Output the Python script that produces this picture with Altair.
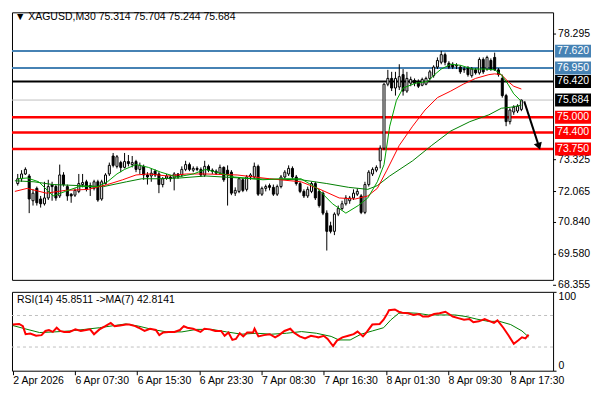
import altair as alt
import pandas as pd

# ---------------- data ----------------
opens = [72.38,72.57,72.76,72.68,71.70,72.19,71.77,71.58,71.81,72.34,72.26,71.89,72.72,72.26,71.96,71.92,72.07,72.34,72.45,72.30,
         72.19,72.45,71.77,72.38,72.76,73.47,73.06,73.21,73.02,73.25,73.13,73.25,72.94,73.06,72.72,72.68,72.87,72.76,72.34,72.60,
         72.64,72.60,72.76,72.72,72.94,73.13,72.91,72.98,72.94,72.72,73.06,72.91,72.87,72.79,73.02,72.91,72.83,72.00,72.07,72.53,
         72.15,72.64,72.64,73.06,71.96,72.19,72.30,72.23,71.96,72.26,72.64,72.76,72.98,72.64,72.38,72.07,71.89,72.07,72.38,72.07,
         72.00,71.21,70.71,70.49,71.17,71.39,71.58,71.70,71.81,71.96,71.89,71.24,72.34,72.76,72.91,73.28,73.78,76.31,76.54,76.16,
         76.20,76.69,76.04,76.35,76.46,76.42,76.27,76.31,76.54,76.65,76.99,77.18,77.48,77.14,77.10,77.03,76.99,76.91,76.95,76.65,
         76.88,76.76,77.29,76.91,77.25,77.37,76.88,76.54,75.86,74.83,75.21,75.25,75.314]
highs = [72.76,72.91,73.02,72.76,72.15,72.26,71.89,72.45,72.53,72.45,72.34,73.13,72.83,72.34,72.00,72.19,72.76,72.76,72.53,72.42,
         72.53,72.53,72.53,72.79,73.21,73.59,73.51,73.28,73.59,73.51,73.47,73.32,73.21,73.13,72.83,72.98,72.94,72.83,72.64,72.76,
         72.72,72.83,72.79,73.06,73.28,73.21,73.06,73.06,73.02,73.28,73.13,72.98,72.94,73.13,73.06,73.10,72.91,72.23,72.64,72.60,
         72.72,72.79,73.21,73.13,72.26,72.34,72.38,72.34,72.34,72.72,72.91,73.10,73.06,72.72,72.45,72.15,72.26,72.45,72.45,72.15,
         72.07,71.32,70.87,71.24,71.51,71.70,71.92,71.89,72.15,72.19,71.96,72.45,72.91,73.02,73.10,73.89,76.35,76.88,76.80,76.80,
         77.10,76.91,76.80,76.61,76.54,76.50,76.57,76.61,76.88,77.06,77.37,77.63,77.56,77.22,77.18,77.14,77.06,76.99,77.03,76.99,
         76.95,77.37,77.37,77.44,77.33,77.56,76.95,76.69,75.93,75.36,75.48,75.52,75.704]
lows = [72.30,72.45,72.72,71.21,71.51,71.51,71.43,71.51,71.73,71.70,71.70,71.81,72.26,71.70,71.62,71.85,72.00,72.23,72.07,71.89,
        72.11,71.66,71.70,72.34,72.68,73.02,72.98,72.83,72.98,73.06,73.02,72.83,72.76,72.53,72.34,72.45,72.64,72.00,72.23,72.53,
        72.45,72.11,72.57,72.64,72.87,72.87,72.83,72.87,72.64,72.64,72.83,72.76,72.72,72.72,72.45,71.51,71.92,71.89,72.00,72.04,
        72.07,72.53,72.57,71.89,71.89,72.07,72.11,71.89,71.89,72.19,72.57,72.68,72.57,72.30,72.00,71.81,71.81,72.00,71.73,71.43,
        71.13,69.73,70.41,70.34,71.09,71.32,71.51,71.58,71.73,71.89,71.17,71.17,72.26,72.68,72.83,72.98,73.70,76.23,76.04,75.86,
        76.08,75.86,75.97,76.23,76.23,76.16,76.23,76.27,76.46,76.57,76.91,77.10,77.06,76.91,76.91,76.91,76.72,76.76,76.61,76.57,
        76.69,76.69,76.72,76.84,76.84,76.84,76.61,75.78,74.65,74.72,75.10,75.17,75.244]
closes = [72.57,72.76,72.94,71.77,72.00,71.62,71.58,71.81,72.26,72.26,71.81,72.72,72.34,71.89,71.89,72.11,72.38,72.42,72.15,72.23,
          72.45,71.73,72.45,72.72,73.10,73.10,73.44,73.02,73.25,73.17,73.21,72.94,73.10,72.72,72.64,72.79,72.72,72.34,72.57,72.68,
          72.57,72.76,72.64,72.94,73.13,72.94,72.98,72.94,72.72,73.06,72.91,72.87,72.79,73.02,72.53,72.76,72.00,72.11,72.57,72.11,
          72.64,72.72,73.06,71.96,72.19,72.26,72.23,71.96,72.26,72.64,72.83,72.98,72.64,72.38,72.07,71.89,72.15,72.38,71.81,71.51,
          71.21,70.49,70.49,71.17,71.39,71.58,71.81,71.81,72.00,72.07,71.24,72.34,72.83,72.94,73.02,73.78,76.31,76.54,76.16,76.54,
          76.61,76.04,76.54,76.50,76.35,76.23,76.50,76.54,76.80,76.99,77.25,77.48,77.18,76.99,76.99,77.06,76.80,76.88,76.69,76.91,
          76.76,77.29,76.80,77.37,76.91,76.88,76.69,75.86,74.83,75.29,75.40,75.44,75.684]

# moving averages on the price panel (bar index, value)
fast_j = [0, 2.5, 5.5, 9.25, 12.5, 16, 21, 23.5, 26, 28, 31, 34.25, 37.5, 41.75, 46, 49.25, 56.75, 64.25, 69.25, 74.25, 78.5,
          82.5, 86, 89.25, 91.75, 94.25, 96, 97.5, 99.25, 101, 104.25, 107.5, 109.25, 111, 113.5, 116, 119.25, 122.5, 125,
          126.75, 128.5, 130, 132]
fast_v = [72.57, 72.60, 72.45, 71.89, 72.07, 72.26, 72.26, 72.45, 72.76, 72.94, 73.13, 73.02, 72.83, 72.64, 72.76, 72.94,
          72.64, 72.53, 72.57, 72.57, 72.19, 71.58, 71.21, 71.51, 71.81, 72.45, 73.13, 74.65, 75.67, 76.16, 76.35, 76.42,
          76.69, 76.91, 77.10, 77.06, 76.91, 76.91, 76.88, 76.69, 76.31, 75.93, 75.63]
mid_j = [-0.75, 2.5, 7.5, 12.5, 18.5, 23.5, 27.5, 31, 34.25, 39.25, 44.25, 49.25, 57.5, 66, 74.25, 79.25, 84.25, 88.5, 91.75,
         94.25, 96.75, 100, 103.5, 106.75, 110, 113.5, 116.75, 120, 123.5, 125, 126.75, 128.5, 130, 132]
mid_v = [72.07, 72.19, 72.00, 72.11, 72.15, 72.34, 72.53, 72.72, 72.76, 72.68, 72.76, 72.76, 72.72, 72.57, 72.45, 72.15, 71.81,
         71.77, 71.89, 72.19, 72.91, 73.89, 74.65, 75.29, 75.78, 76.04, 76.31, 76.54, 76.69, 76.72, 76.69, 76.42, 76.23, 76.12]
slow_j = [-0.75, 4.25, 9.25, 16, 22.5, 28.5, 32.5, 36.75, 42.5, 49.25, 61.75, 74.25, 81, 86.75, 91.75, 94.25, 97.5, 103.5,
          108.5, 113.5, 118.5, 123.5, 126.75, 129.25, 132]
slow_v = [72.49, 72.45, 72.34, 72.30, 72.26, 72.45, 72.57, 72.57, 72.60, 72.68, 72.57, 72.53, 72.38, 72.23, 72.15, 72.30,
          72.68, 73.28, 73.89, 74.46, 74.83, 75.10, 75.36, 75.40, 75.48]

# RSI(14) and its MA(7)
rsi_j = [0.0,1.65,2.6,3.3,4.5,6.0,7.4,8.4,9.3,10.3,11.3,12.2,13.2,14.6,16.1,17.5,18.5,19.9,20.9,22.3,23.8,25.2,26.2,27.6,
         29.1,30.0,31.5,32.4,33.9,35.3,36.8,37.7,38.7,40.1,41.6,43.0,44.0,44.9,46.4,48.3,49.3,50.7,52.1,53.6,54.5,55.5,56.5,
         57.4,58.4,59.3,60.3,61.8,62.2,63.2,64.6,66.1,67.5,68.5,69.9,71.4,72.3,73.8,75.2,76.7,77.6,78.6,80.0,81.0,82.4,83.4,
         84.8,86.3,87.7,88.7,90.1,91.1,92.5,94.4,95.4,96.4,96.8,98.3,99.3,100.2,101.7,103.1,104.5,105.5,106.9,108.4,109.8,
         111.3,112.2,113.2,114.6,116.1,117.5,118.5,119.9,121.4,122.8,123.8,124.7,126.2,127.6,128.9,130.0,131.0,131.9,132.7]
rsi_v = [58.5,59.3,56.5,46.3,47.1,44.3,45.1,50.4,51.6,49.2,54.5,50.4,49.2,49.2,52.4,50.4,51.2,52.4,46.3,52.4,56.5,60.6,
         56.5,57.3,58.5,58.5,56.5,54.5,50.4,53.2,51.6,45.1,48.4,49.2,49.2,51.6,56.5,54.5,53.2,49.2,53.2,52.4,50.4,50.4,44.3,
         48.4,39.0,40.2,47.5,43.5,48.4,48.4,53.2,43.5,45.1,46.3,42.3,45.1,50.4,53.2,48.4,43.5,41.0,44.3,43.5,42.3,44.3,40.2,
         31.3,38.2,42.3,44.3,46.3,49.6,43.5,49.2,58.5,59.3,64.6,72.8,76.8,77.6,74.8,73.6,72.8,70.7,71.9,68.7,68.7,71.9,72.8,
         74.8,71.9,68.7,66.7,64.6,65.4,61.4,62.6,65.4,62.6,60.6,63.8,54.5,44.3,34.1,38.2,42.3,41.0,45.85]
ma7_j = [0.0,3.1,6.9,10.8,14.6,18.5,22.3,26.2,29.1,32.4,35.8,39.6,43.5,47.3,51.2,55.0,58.9,62.7,66.6,70.4,74.3,78.1,81.9,
         83.9,86.8,89.6,92.5,95.4,97.3,99.3,101.2,104.1,106.9,109.8,113.7,116.6,119.4,122.3,125.2,128.1,131.0,132.7]
ma7_v = [57.3,53.2,48.4,49.2,50.4,52.4,54.5,57.3,59.3,56.5,52.4,49.2,49.2,52.4,52.4,49.2,46.3,47.5,46.3,47.5,49.6,47.5,43.5,
         39.0,39.0,46.3,50.4,54.5,64.6,72.8,73.6,72.8,70.7,70.7,70.7,68.7,65.4,62.6,62.6,58.5,50.4,42.81]

# horizontal levels
blue_levels = [77.620, 76.950]
black_levels = [76.420]
red_levels = [75.000, 74.400, 73.750]
current_price = [75.684]
axis_prices = [78.295, 73.325, 72.065, 70.840, 69.580, 68.355]

# forecast arrow (bar index, price)
arrow_j0, arrow_p0, arrow_j1, arrow_p1 = [132.75], [75.63], [136.6], [73.85]

# time axis
tick_j = [0, 16, 32, 48, 64, 80, 96, 112, 128]
tick_labels = ["2 Apr 2026", "6 Apr 07:30", "6 Apr 15:30", "6 Apr 23:30", "7 Apr 08:30",
               "7 Apr 16:30", "8 Apr 01:30", "8 Apr 09:30", "8 Apr 17:30"]
rsi_axis_values = [0, 30, 70, 100]
rsi_levels = [70, 30]

title_text = "\u25BC XAGUSD,M30  75.314 75.704 75.244 75.684"
rsi_text = "RSI(14) 45.8511  ->MA(7) 42.8141"

# ---------------- chart ----------------
FONT = "Liberation Sans"
FS = 10.5
W, H1, H2 = 542, 268, 79
YLO, YHI = 68.57, 79.155
HALF = 6.5 * (YHI - YLO) / H1          # half a label box (6.5 px) in price units
xs = alt.Scale(domain=[-0.2, 139.0], nice=False, zero=False)
ys = alt.Scale(domain=[YLO, YHI], nice=False, zero=False)
rs = alt.Scale(domain=[0, 100], nice=False, zero=False)

X = lambda f: alt.X(f, type="quantitative", scale=xs, axis=None)
Y = lambda f: alt.Y(f, type="quantitative", scale=ys, axis=None)

candles = pd.DataFrame({"j": list(range(len(opens))), "open": opens, "high": highs,
                        "low": lows, "close": closes})


def levels(vals, color, width):
    return alt.Chart(pd.DataFrame({"lvl": vals})).mark_rule(
        color=color, strokeWidth=width).encode(y=Y("lvl"))


def line(js, vs, color, width):
    return alt.Chart(pd.DataFrame({"j": js, "v": vs})).mark_line(
        color=color, strokeWidth=width, clip=True).encode(x=X("j"), y=Y("v"))


def tags(vals, bg, fg):
    d = pd.DataFrame({"tag": vals})
    box = alt.Chart(d).transform_calculate(
        lo=f"datum.tag - {HALF}", hi=f"datum.tag + {HALF}"
    ).mark_rect(color=bg, opacity=1, clip=False).encode(
        x=alt.value(W + 2), x2=alt.value(W + 38), y=Y("lo"), y2="hi")
    txt = alt.Chart(d).mark_text(align="left", baseline="middle", font=FONT, fontSize=FS,
                                 color=fg).encode(x=alt.value(W + 4), y=Y("tag"),
                                                  text=alt.Text("tag:Q", format=".3f"))
    return [box, txt]


wicks = alt.Chart(candles).mark_rule(color="black", strokeWidth=1).encode(
    x=X("j"), y=Y("low"), y2="high")
bodies = alt.Chart(candles).mark_bar(size=2, stroke="black", strokeWidth=1).encode(
    x=X("j"), y=Y("open"), y2="close",
    fill=alt.condition("datum.close >= datum.open", alt.value("white"), alt.value("black")))

arrow_df = pd.DataFrame({"j0": arrow_j0, "p0": arrow_p0, "j1": arrow_j1, "p1": arrow_p1})
arrow_line = alt.Chart(arrow_df).mark_rule(color="black", strokeWidth=2).encode(
    x=X("j0"), y=Y("p0"), x2="j1", y2="p1")
arrow_head = alt.Chart(arrow_df).mark_point(shape="triangle-up", angle=162, size=70, filled=True,
                                            color="black", opacity=1).encode(x=X("j1"), y=Y("p1"))

axis_df = pd.DataFrame({"ap": axis_prices})
axis_ticks = alt.Chart(axis_df).mark_rule(color="black").encode(
    x=alt.value(W), x2=alt.value(W + 3), y=Y("ap"))
axis_text = alt.Chart(axis_df).mark_text(align="left", baseline="middle", font=FONT, fontSize=FS,
                                         color="black").encode(
    x=alt.value(W + 5), y=Y("ap"), text=alt.Text("ap:Q", format=".3f"))

title = alt.Chart(pd.DataFrame({"t": [title_text]})).mark_text(
    align="left", baseline="middle", font=FONT, fontSize=FS, color="black").encode(
    x=alt.value(3), y=alt.value(5), text="t:N")

main = alt.layer(
    levels(current_price, "#c0c0c0", 1),
    levels(blue_levels, "#4682b4", 2),
    levels(black_levels, "black", 2),
    levels(red_levels, "#ff0000", 2.5),
    wicks, bodies,
    line(slow_j, slow_v, "#008000", 1),
    line(mid_j, mid_v, "#ff0000", 1),
    line(fast_j, fast_v, "#00a000", 1),
    arrow_line, arrow_head,
    axis_ticks, axis_text,
    *tags(blue_levels, "#4682b4", "white"),
    *tags(black_levels, "black", "white"),
    *tags(current_price, "black", "white"),
    *tags(red_levels, "#ff0000", "white"),
    title,
).properties(width=W, height=H1)

label_expr = " : ".join(f"datum.value == {j} ? '{t}'" for j, t in zip(tick_j, tick_labels)) + " : ''"

rsi_line = alt.Chart(pd.DataFrame({"j": rsi_j, "v": rsi_v})).mark_line(
    color="#ff0000", strokeWidth=2, clip=True).encode(
    x=alt.X("j:Q", scale=xs, axis=alt.Axis(
        values=tick_j, labelExpr=label_expr, orient="bottom", title=None, grid=False, domain=False,
        tickSize=4, tickColor="black", labelAlign="left", labelFlush=False, labelOverlap=False,
        labelPadding=1, labelFont=FONT, labelFontSize=FS, labelColor="black")),
    y=alt.Y("v:Q", scale=rs, axis=alt.Axis(
        values=rsi_axis_values, orient="right", title=None, grid=False, domain=False, format="d",
        tickSize=3, tickColor="black", labelFlush=True, labelPadding=2, labelFont=FONT,
        labelFontSize=FS, labelColor="black")))
rsi_ma = alt.Chart(pd.DataFrame({"j": ma7_j, "v": ma7_v})).mark_line(
    color="#008000", strokeWidth=1, clip=True).encode(
    x=alt.X("j:Q", scale=xs), y=alt.Y("v:Q", scale=rs))
rsi_lv = alt.Chart(pd.DataFrame({"r": rsi_levels})).mark_rule(
    color="#c0c0c0", strokeWidth=1, strokeDash=[3, 3]).encode(y=alt.Y("r:Q", scale=rs))
rsi_title = alt.Chart(pd.DataFrame({"t": [rsi_text]})).mark_text(
    align="left", baseline="middle", font=FONT, fontSize=FS, color="black").encode(
    x=alt.value(5), y=alt.value(8), text="t:N")

rsi = alt.layer(rsi_lv, rsi_ma, rsi_line, rsi_title).properties(width=W, height=H2)

chart = alt.vconcat(main, rsi, spacing=12, bounds="flush").properties(
    padding={"left": 2, "top": 3, "right": 0, "bottom": 0},
    background="white",
).configure_view(stroke="black", strokeWidth=1)

chart.save("out.html", embed_options={"renderer": "svg", "actions": False})
